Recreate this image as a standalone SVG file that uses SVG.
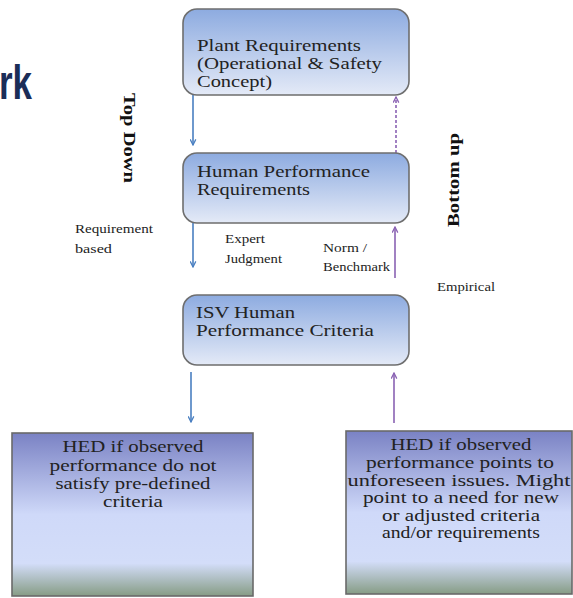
<svg xmlns="http://www.w3.org/2000/svg" width="573" height="598" viewBox="0 0 573 598">
  <style>
    .box { fill: url(#gTop); stroke: #6e6e6e; stroke-width: 1.6; }
    .hed { fill: url(#gBot); stroke: #6a6a6a; stroke-width: 1.6; }
    .t20 { font-family: "Liberation Serif", "Times New Roman", serif; font-size: 17px; fill: #222; }
    .t18 { font-family: "Liberation Serif", "Times New Roman", serif; font-size: 17px; fill: #222; text-anchor: middle; }
    .lbl { font-family: "Liberation Serif", "Times New Roman", serif; font-size: 13px; fill: #222; }
    .rot { font-family: "Liberation Serif", "Times New Roman", serif; font-size: 16.5px; font-weight: bold; fill: #111; }
    .blue { stroke: #4a7fc1; stroke-width: 1.6; fill: none; marker-end: url(#ab); }
    .purp { stroke: #8a62b3; stroke-width: 1.6; fill: none; marker-end: url(#ap); }
  </style>
  <defs>
    <linearGradient id="gTop" x1="0" y1="0" x2="0" y2="1">
      <stop offset="0" stop-color="#8dabe0"/>
      <stop offset="1" stop-color="#e4eaf7"/>
    </linearGradient>
    <linearGradient id="gBot" x1="0" y1="0" x2="0" y2="1">
      <stop offset="0" stop-color="#7a82c4"/>
      <stop offset="0.5" stop-color="#cfd9f9"/>
      <stop offset="0.8" stop-color="#d3ddf9"/>
      <stop offset="1" stop-color="#869c85"/>
    </linearGradient>
    <marker id="ab" viewBox="0 0 10 10" refX="9" refY="5" markerWidth="7" markerHeight="7" orient="auto" markerUnits="userSpaceOnUse">
      <polyline points="1,1 9,5 1,9" fill="none" stroke="#4a7fc1" stroke-width="1.8"/>
    </marker>
    <marker id="ap" viewBox="0 0 10 10" refX="9" refY="5" markerWidth="7" markerHeight="7" orient="auto" markerUnits="userSpaceOnUse">
      <polyline points="1,1 9,5 1,9" fill="none" stroke="#8a62b3" stroke-width="1.8"/>
    </marker>
  </defs>
  <rect width="573" height="598" fill="#ffffff"/>

  <text x="-1" y="99" font-family="Liberation Sans, Arial, sans-serif" font-weight="bold" font-size="48" fill="#1b2d58" textLength="33" lengthAdjust="spacingAndGlyphs">rk</text>

  <g id="connectors">
    <line class="blue" x1="193" y1="95" x2="193" y2="145"/>
    <line class="purp" x1="396" y1="153" x2="396" y2="97" stroke-dasharray="3,2"/>
    <line class="blue" x1="193" y1="223" x2="193" y2="267"/>
    <line class="purp" x1="395" y1="278" x2="395" y2="227"/>
    <line class="blue" x1="191" y1="372" x2="191" y2="422"/>
    <line class="purp" x1="394" y1="423" x2="394" y2="373"/>
  </g>

  <g id="plant">
    <rect class="box" x="183" y="9" width="226" height="86" rx="14"/>
    <text class="t20" x="197" y="50.5" textLength="164" lengthAdjust="spacingAndGlyphs">Plant Requirements</text>
    <text class="t20" x="197" y="68.5" textLength="185" lengthAdjust="spacingAndGlyphs">(Operational &amp; Safety</text>
    <text class="t20" x="197" y="86.5" textLength="75" lengthAdjust="spacingAndGlyphs">Concept)</text>
  </g>

  <g id="human">
    <rect class="box" x="183" y="153" width="226" height="70" rx="14"/>
    <text class="t20" x="197" y="176.5" textLength="173" lengthAdjust="spacingAndGlyphs">Human Performance</text>
    <text class="t20" x="197" y="194.5" textLength="113" lengthAdjust="spacingAndGlyphs">Requirements</text>
  </g>

  <g id="isv">
    <rect class="box" x="183" y="295" width="226" height="70" rx="14"/>
    <text class="t20" x="196" y="317.5" textLength="99" lengthAdjust="spacingAndGlyphs">ISV Human</text>
    <text class="t20" x="196" y="336" textLength="178" lengthAdjust="spacingAndGlyphs">Performance  Criteria</text>
  </g>

  <g id="labels">
    <text class="lbl" x="75" y="233" textLength="78" lengthAdjust="spacingAndGlyphs">Requirement</text>
    <text class="lbl" x="75" y="252.5" textLength="37" lengthAdjust="spacingAndGlyphs">based</text>
    <text class="lbl" x="225" y="243" textLength="40" lengthAdjust="spacingAndGlyphs">Expert</text>
    <text class="lbl" x="225" y="262.5" textLength="57" lengthAdjust="spacingAndGlyphs">Judgment</text>
    <text class="lbl" x="323" y="251.5" textLength="44" lengthAdjust="spacingAndGlyphs">Norm /</text>
    <text class="lbl" x="323" y="271" textLength="67" lengthAdjust="spacingAndGlyphs">Benchmark</text>
    <text class="lbl" x="437" y="291" textLength="58" lengthAdjust="spacingAndGlyphs">Empirical</text>
    <text class="rot" x="124" y="93" transform="rotate(90 124 93)" textLength="90" lengthAdjust="spacingAndGlyphs">Top Down</text>
    <text class="rot" x="459" y="227" transform="rotate(-90 459 227)" textLength="94" lengthAdjust="spacingAndGlyphs">Bottom up</text>
  </g>

  <g id="hed-left">
    <rect class="hed" x="12" y="433" width="241" height="163"/>
    <text class="t18" x="133" y="451.5" textLength="141" lengthAdjust="spacingAndGlyphs">HED if observed</text>
    <text class="t18" x="133" y="471" textLength="167" lengthAdjust="spacingAndGlyphs">performance  do not</text>
    <text class="t18" x="133" y="489" textLength="155" lengthAdjust="spacingAndGlyphs">satisfy pre-defined</text>
    <text class="t18" x="133" y="506.5" textLength="60" lengthAdjust="spacingAndGlyphs">criteria</text>
  </g>

  <g id="hed-right">
    <rect class="hed" x="346" y="431" width="226" height="163"/>
    <text class="t18" x="461" y="450" textLength="141" lengthAdjust="spacingAndGlyphs">HED if observed</text>
    <text class="t18" x="460" y="468" textLength="188" lengthAdjust="spacingAndGlyphs">performance  points to</text>
    <text class="t18" x="459" y="485.5" textLength="223" lengthAdjust="spacingAndGlyphs">unforeseen  issues. Might</text>
    <text class="t18" x="461" y="503" textLength="196" lengthAdjust="spacingAndGlyphs">point to a need  for new</text>
    <text class="t18" x="461" y="520.5" textLength="158" lengthAdjust="spacingAndGlyphs">or adjusted  criteria</text>
    <text class="t18" x="461" y="538" textLength="158" lengthAdjust="spacingAndGlyphs">and/or requirements</text>
  </g>
</svg>
